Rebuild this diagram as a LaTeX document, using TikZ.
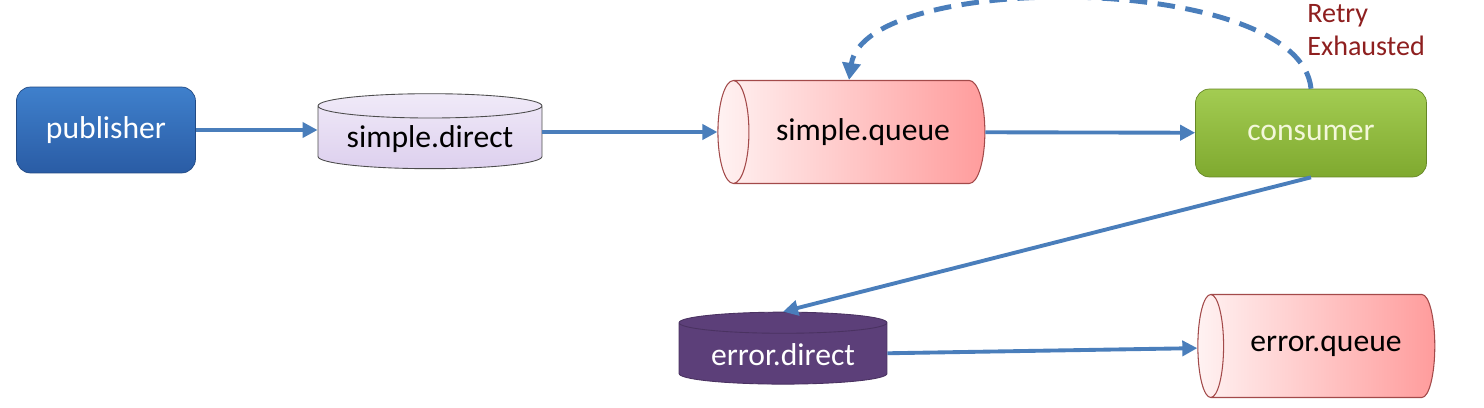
\documentclass[tikz,border=0pt]{standalone}
\usepackage{fontspec}
\setmainfont{Carlito}
\usetikzlibrary{arrows.meta,positioning,shapes.geometric}
\definecolor{flowblue}{HTML}{4A7EBB}
\definecolor{pubtop}{HTML}{3F80CC}
\definecolor{pubbot}{HTML}{2A5CA5}
\definecolor{contop}{HTML}{A3CC52}
\definecolor{conbot}{HTML}{7FA92F}
\definecolor{context}{HTML}{F3F7DA}
\definecolor{exlight}{HTML}{F0EAF8}
\definecolor{exfill}{HTML}{DDD0EE}
\definecolor{errfill}{HTML}{5C3F79}
\definecolor{qleft}{HTML}{FFF2F2}
\definecolor{qright}{HTML}{FF9C9C}
\definecolor{qedge}{HTML}{A34A4A}
\definecolor{retryred}{HTML}{8E1F1F}
\tikzset{
  pubbox/.style={draw=pubbot!80!black,top color=pubtop,bottom color=pubbot,
                 rounded corners=8pt,minimum width=3.58cm,minimum height=1.72cm,
                 text=white,font=\fontsize{18}{20}\selectfont},
  conbox/.style={draw=conbot!80!black,top color=contop,bottom color=conbot,
                 rounded corners=8pt,minimum width=4.62cm,minimum height=1.76cm,
                 text=context,font=\fontsize{18}{20}\selectfont},
  exchange/.style={cylinder,shape border rotate=90,aspect=0.14,draw=black!70,
                   line width=0.5pt,inner sep=2pt,font=\fontsize{18}{20}\selectfont},
  queuecyl/.style={cylinder,shape border rotate=180,aspect=0.8,draw=qedge,
                   line width=0.6pt,left color=qleft,right color=qright,
                   minimum width=2.06cm,font=\fontsize{18}{20}\selectfont},
  flowarr/.style={-{Triangle[length=3mm,width=3mm]},line width=2.2pt,
                  draw=flowblue},
  retryarr/.style={-{Triangle[length=3.4mm,width=3.6mm]},line width=2.8pt,
                   draw=flowblue,dash pattern=on 10pt off 6pt}
}
\begin{document}
\begin{tikzpicture}[x=0.02cm,y=-0.02cm]
    \path[use as bounding box,fill=white] (0,0) rectangle (1484,408);

    \node[pubbox] (publisher) at (106,130) {publisher};
    \node[exchange,top color=exlight,bottom color=exfill,
          minimum width=4.48cm,minimum height=1.5cm] (simpledirect) at (430,139)
      {simple.direct};
    \node[queuecyl,minimum height=5.34cm] (simplequeue) at (863,132)
      {simple.queue};
    \node[conbox] (consumer) at (1311,133) {consumer};

    \node[exchange,fill=errfill,draw=errfill!80!black,text=white,
          minimum width=4.16cm,minimum height=1.44cm] (errordirect) at (783,355)
      {error.direct};
    \node[queuecyl,minimum height=4.74cm] (errorqueue) at (1326,346)
      {error.queue};

    \node[text=retryred,align=left,anchor=west,inner sep=0pt,
          font=\fontsize{16}{19}\selectfont] (retry) at (1307,30)
      {Retry\\Exhausted};

    \draw[flowarr] (publisher.east) -- (publisher.east -| simpledirect.west);
    \draw[flowarr] (simpledirect.east |- simplequeue.west) -- (simplequeue.west);
    \draw[flowarr] (simplequeue) -- (consumer);
    \draw[flowarr] (consumer.south) -- (errordirect.north);
    \draw[flowarr] (errordirect) -- (errorqueue);
    \draw[retryarr] (consumer.north) .. controls (1300,-28) and (865,-30)
      .. ([xshift=-0.28cm]simplequeue.north);
  \end{tikzpicture}
\end{document}
